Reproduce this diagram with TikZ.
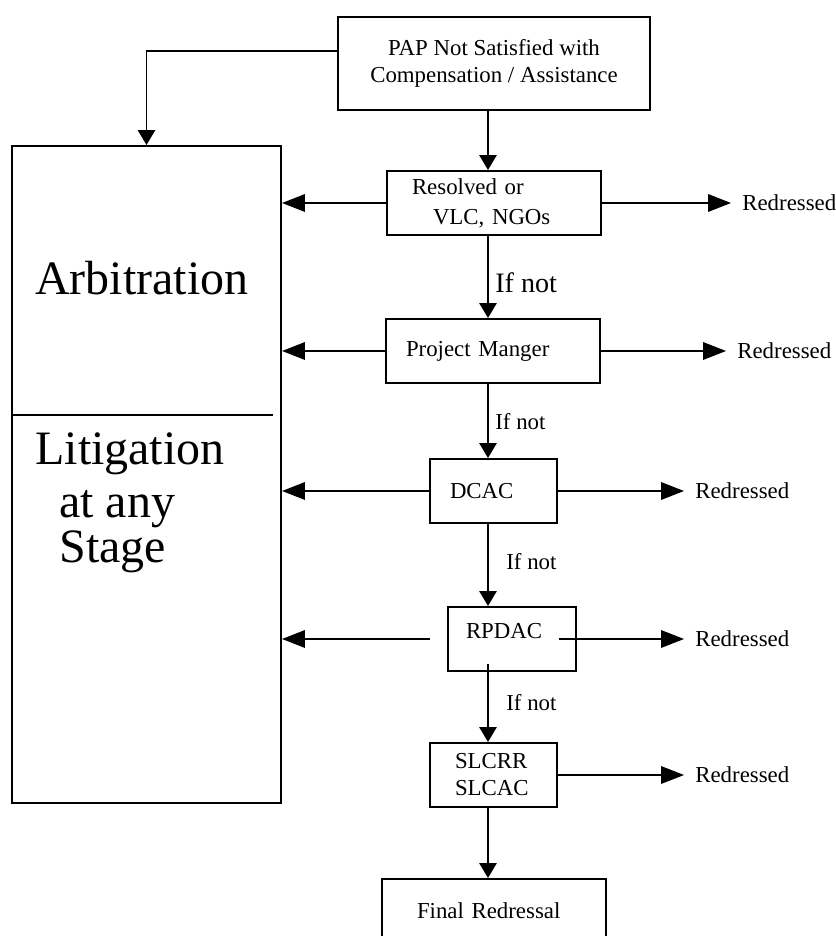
\documentclass[tikz,border=0pt]{standalone}
\usepackage{fontspec}
\setmainfont{Liberation Serif}
\usetikzlibrary{arrows.meta}

\begin{document}
\begin{tikzpicture}[>={Triangle[length=8.5pt,width=10pt]},
  box/.style={draw, line width=1.2pt, inner ysep=0pt, minimum height=1.28cm, align=left, font=\fontsize{13}{15.4}\selectfont},
  txt/.style={font=\fontsize{13}{15.4}\selectfont},
  big/.style={anchor=base west, inner sep=0pt, font=\fontsize{27.3}{32}\selectfont},
  side/.style={line width=0.7pt, -{Triangle[length=13pt,width=10pt]}},
  down/.style={line width=0.7pt, ->}]
  \useasboundingbox (0,0) rectangle (16.7,18.72);

  \node (top) at (9.88,17.45) [box, align=center, minimum width=6.24cm, minimum height=1.86cm] {PAP Not Satisfied with\\Compensation / Assistance} ;
  \node (res) at (9.88,14.66) [box, text width=3.28cm, inner xsep=0.5cm, font=\fontsize{13}{17}\selectfont] {Resolved or\\\hspace*{0.42cm}VLC, NGOs} ;
  \node (pm) at (9.86,11.70) [box, text width=3.48cm, inner xsep=0.4cm] {Project Manger} ;
  \node (dcac) at (9.87,8.90) [box, text width=1.74cm, inner xsep=0.4cm] {DCAC} ;
  \node (rpdac) at (10.24,5.94) [box, text width=1.84cm, inner xsep=0.36cm, text height=0.3cm, text depth=0.32cm] {RPDAC} ;
  \node (slcrr) at (9.87,3.22) [box, text width=1.54cm, inner xsep=0.5cm] {SLCRR\\SLCAC} ;
  \node (fin) at (9.88,0.50) [box, text width=3.08cm, inner xsep=0.7cm] {Final Redressal} ;

  \node (arb) at (2.93,9.23) [draw, line width=1.2pt, minimum width=5.38cm, minimum height=13.14cm] {} ;
  \coordinate (dv) at (5.46,10.42) ;
  \draw [line width=1.2pt] (arb.west |- dv) -- (dv);
  \node (arbt) at (0.70,12.82) [big] {Arbitration} ;
  \node (lit) at (0.70,9.42) [big] {Litigation} ;
  \node (atany) at (1.18,8.36) [big] {at any} ;
  \node (stage) at (1.18,7.46) [big] {Stage} ;

  \node (red1) at (14.62,14.66) [txt, anchor=west, inner xsep=0.22cm] {Redressed} ;
  \node (red2) at (14.52,11.70) [txt, anchor=west, inner xsep=0.22cm] {Redressed} ;
  \node (red3) at (13.68,8.90) [txt, anchor=west, inner xsep=0.22cm] {Redressed} ;
  \node (red4) at (13.68,5.94) [txt, anchor=west, inner xsep=0.22cm] {Redressed} ;
  \node (red5) at (13.68,3.22) [txt, anchor=west, inner xsep=0.22cm] {Redressed} ;

  \node (ifn1) at (9.90,13.06) [anchor=west, inner sep=0pt, font=\fontsize{16}{19}\selectfont] {If not} ;
  \node (ifn2) at (9.90,10.28) [anchor=west, inner sep=0pt, txt] {If not} ;
  \node (ifn3) at (10.12,7.48) [anchor=west, inner sep=0pt, txt] {If not} ;
  \node (ifn4) at (10.12,4.66) [anchor=west, inner sep=0pt, txt] {If not} ;

  \coordinate (ax) at (9.76,0) ;
  \draw [down] ([yshift=0.25cm]top.west) -| (arb.north);
  \draw [down] (top.south -| ax) -- (res.north -| ax);
  \draw [down] (res.south -| ax) -- (pm.north -| ax);
  \draw [down] (pm.south -| ax) -- (dcac.north -| ax);
  \draw [down] (dcac.south -| ax) -- (rpdac.north -| ax);
  \draw [down, shorten <=-0.16cm] (rpdac.south -| ax) -- (slcrr.north -| ax);
  \draw [down] (slcrr.south -| ax) -- (fin.north -| ax);

  \draw [side] (res.west) -- (res.west -| arb.east);
  \draw [side] (pm.west) -- (pm.west -| arb.east);
  \draw [side] (dcac.west) -- (dcac.west -| arb.east);
  \draw [side, shorten <=0.34cm] (rpdac.west) -- (rpdac.west -| arb.east);

  \draw [side] (res) -- (red1);
  \draw [side] (pm) -- (red2);
  \draw [side] (dcac) -- (red3);
  \draw [side, shorten <=-0.36cm] (rpdac) -- (red4);
  \draw [side] (slcrr) -- (red5);
\end{tikzpicture}
\end{document}
